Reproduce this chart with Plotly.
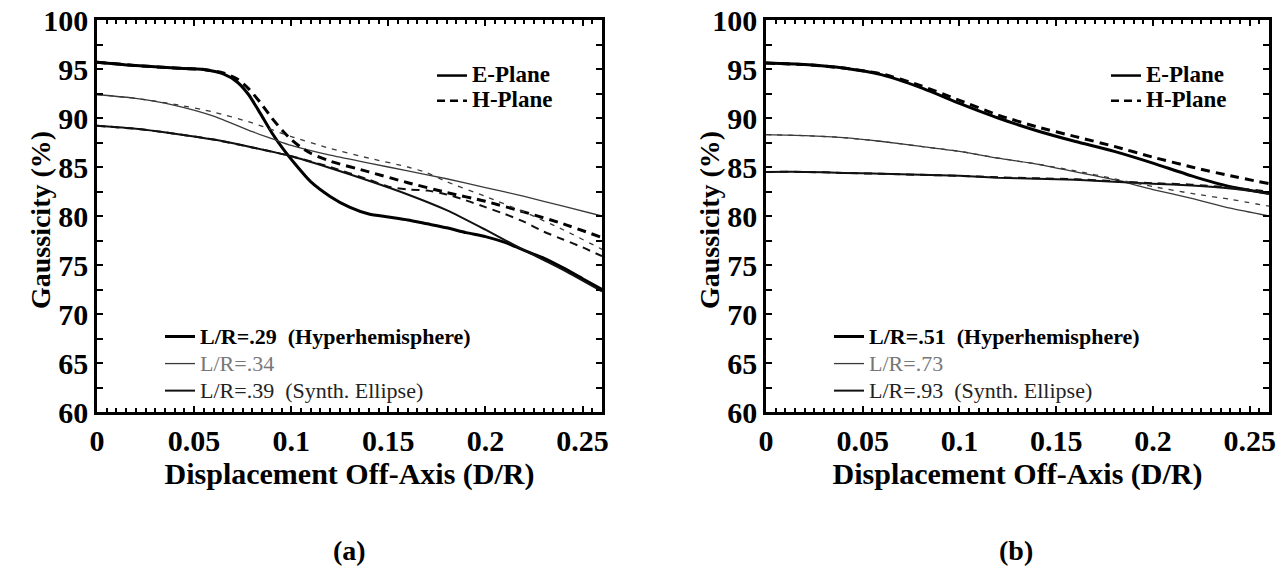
import plotly.graph_objects as go

# ---------------- data: panel (a) ----------------
a_x_e29 = [0, 0.02, 0.04, 0.055, 0.065, 0.072, 0.078, 0.084, 0.09, 0.096, 0.102, 0.11, 0.12, 0.13,
           0.14, 0.15, 0.16, 0.17, 0.18, 0.19, 0.2, 0.21, 0.22, 0.23, 0.24, 0.25, 0.26]
a_y_e29 = [95.7, 95.35, 95.1, 94.95, 94.5, 93.7, 92.4, 90.5, 88.5, 86.8, 85.3, 83.5, 82.0, 80.9,
           80.2, 79.9, 79.6, 79.2, 78.8, 78.3, 77.9, 77.3, 76.5, 75.7, 74.7, 73.6, 72.5]
a_x_h29 = [0, 0.02, 0.04, 0.055, 0.065, 0.072, 0.078, 0.084, 0.09, 0.096, 0.1, 0.105, 0.11, 0.12,
           0.14, 0.16, 0.18, 0.2, 0.22, 0.24, 0.26]
a_y_h29 = [95.7, 95.35, 95.1, 94.95, 94.6, 94.0, 93.0, 91.6, 90.0, 88.6, 87.8, 87.0, 86.4, 85.6,
           84.5, 83.4, 82.4, 81.5, 80.4, 79.2, 77.8]
a_x_e34 = [0, 0.02, 0.04, 0.06, 0.08, 0.09, 0.1, 0.12, 0.14, 0.16, 0.18, 0.2, 0.22, 0.24, 0.26]
a_y_e34 = [92.4, 92.0, 91.3, 90.2, 88.6, 87.9, 87.2, 86.2, 85.4, 84.6, 83.8, 82.9, 82.0, 81.0, 80.0]
a_x_h34 = [0, 0.02, 0.04, 0.06, 0.08, 0.1, 0.12, 0.14, 0.16, 0.17, 0.18, 0.2, 0.22, 0.24, 0.26]
a_y_h34 = [92.4, 92.0, 91.4, 90.6, 89.5, 88.1, 86.9, 85.9, 85.0, 84.4, 83.5, 82.0, 80.4, 78.6, 76.6]
a_x_e39 = [0, 0.02, 0.04, 0.06, 0.08, 0.1, 0.12, 0.14, 0.16, 0.18, 0.2, 0.22, 0.24, 0.26]
a_y_e39 = [89.2, 88.9, 88.4, 87.8, 87.0, 86.1, 84.9, 83.6, 82.2, 80.6, 78.6, 76.5, 74.5, 72.3]
a_x_h39 = [0, 0.02, 0.04, 0.06, 0.08, 0.1, 0.12, 0.14, 0.15, 0.16, 0.17, 0.18, 0.19, 0.2, 0.21,
           0.22, 0.23, 0.24, 0.25, 0.26]
a_y_h39 = [89.2, 88.9, 88.4, 87.8, 87.0, 86.1, 85.0, 83.7, 83.0, 82.7, 82.6, 82.2, 81.6, 80.9, 80.2,
           79.4, 78.4, 77.6, 76.8, 75.9]

# ---------------- data: panel (b) ----------------
b_x = [0, 0.02, 0.04, 0.06, 0.08, 0.1, 0.12, 0.14, 0.16, 0.18, 0.2, 0.22, 0.24, 0.26]
b_y_e51 = [95.6, 95.45, 95.1, 94.4, 93.1, 91.5, 90.0, 88.7, 87.6, 86.6, 85.4, 84.1, 83.0, 82.3]
b_y_h51 = [95.6, 95.45, 95.1, 94.5, 93.3, 91.8, 90.3, 89.1, 88.1, 87.1, 86.0, 85.0, 84.1, 83.3]
b_y_e73 = [88.3, 88.2, 88.0, 87.6, 87.1, 86.6, 85.9, 85.3, 84.5, 83.7, 82.7, 81.8, 80.8, 80.0]
b_y_h73 = [88.3, 88.2, 88.0, 87.6, 87.1, 86.6, 85.9, 85.3, 84.6, 83.8, 83.0, 82.3, 81.7, 81.0]
b_y_e93 = [84.5, 84.5, 84.4, 84.3, 84.2, 84.1, 83.9, 83.8, 83.7, 83.5, 83.3, 83.1, 82.8, 82.3]
b_y_h93 = [84.5, 84.5, 84.4, 84.3, 84.2, 84.1, 83.95, 83.85, 83.75, 83.55, 83.35, 83.2, 82.9, 82.5]

x_tickvals = [0, 0.05, 0.1, 0.15, 0.2, 0.25]
x_ticktext = ["0", "0.05", "0.1", "0.15", "0.2", "0.25"]
y_tickvals = [60, 65, 70, 75, 80, 85, 90, 95, 100]
y_ticktext = ["60", "65", "70", "75", "80", "85", "90", "95", "100"]

LR = "font-size:22px"
a_names = [f"<span style='{LR}'><b>L/R=.29\u00a0\u00a0(Hyperhemisphere)</b></span>",
           f"<span style='{LR};color:#777777'>L/R=.34</span>",
           f"<span style='{LR};color:#222222'>L/R=.39\u00a0\u00a0(Synth. Ellipse)</span>"]
b_names = [f"<span style='{LR}'><b>L/R=.51\u00a0\u00a0(Hyperhemisphere)</b></span>",
           f"<span style='{LR};color:#777777'>L/R=.73</span>",
           f"<span style='{LR};color:#222222'>L/R=.93\u00a0\u00a0(Synth. Ellipse)</span>"]
EH = "font-size:23px"
plane_names = [f"<span style='{EH}'><b>E-Plane</b></span>", f"<span style='{EH}'><b>H-Plane</b></span>"]
panel_labels = ["<b>(a)</b>", "<b>(b)</b>"]
y_title = "<b>Gaussicity (%)</b>"
x_title = "Displacement Off-Axis (D/R)"

FONT = "Liberation Serif, Times New Roman, serif"
W_THICK, W_THIN, W_MED = 3.0, 1.3, 2.0
C_THICK, C_THIN, C_MED = "#000000", "#3a3a3a", "#111111"

fig = go.Figure()

def add(x, y, xa, ya, width, color, dash, name=None, legend=None):
    fig.add_trace(go.Scatter(
        x=x, y=y, xaxis=xa, yaxis=ya, mode="lines",
        line=dict(color=color, width=width, dash=dash, shape="spline", smoothing=0.6),
        name=name or "", showlegend=name is not None,
        legend=legend or "legend", hoverinfo="skip"))

# panel a
add(a_x_e29, a_y_e29, "x", "y", W_THICK, C_THICK, "solid", a_names[0], "legend2")
add(a_x_e34, a_y_e34, "x", "y", W_THIN, C_THIN, "solid", a_names[1], "legend2")
add(a_x_e39, a_y_e39, "x", "y", W_MED, C_MED, "solid", a_names[2], "legend2")
add(a_x_h29, a_y_h29, "x", "y", W_THICK, C_THICK, "9px,6px")
add(a_x_h34, a_y_h34, "x", "y", W_THIN, C_THIN, "5px,6px")
add(a_x_h39, a_y_h39, "x", "y", W_MED, C_MED, "8px,6px")
# panel b
add(b_x, b_y_e51, "x2", "y2", W_THICK, C_THICK, "solid", b_names[0], "legend4")
add(b_x, b_y_e73, "x2", "y2", W_THIN, C_THIN, "solid", b_names[1], "legend4")
add(b_x, b_y_e93, "x2", "y2", W_MED, C_MED, "solid", b_names[2], "legend4")
add(b_x, b_y_h51, "x2", "y2", W_THICK, C_THICK, "9px,6px")
add(b_x, b_y_h73, "x2", "y2", W_THIN, C_THIN, "5px,6px")
add(b_x, b_y_h93, "x2", "y2", W_MED, C_MED, "8px,6px")

# legend-only entries for E-Plane / H-Plane
for xa_, ya_, lg in (("x", "y", "legend"), ("x2", "y2", "legend3")):
    fig.add_trace(go.Scatter(x=[None], y=[None], xaxis=xa_, yaxis=ya_, mode="lines",
                             line=dict(color="black", width=2.5), name=plane_names[0], legend=lg))
    fig.add_trace(go.Scatter(x=[None], y=[None], xaxis=xa_, yaxis=ya_, mode="lines",
                             line=dict(color="black", width=2.5, dash="8px,5px"),
                             name=plane_names[1], legend=lg))

W, H = 1285, 576
dom_a = [97 / W, 602 / W]
dom_b = [766 / W, 1269 / W]
dom_y = [1 - 412 / H, 1 - 20 / H]

axis_common = dict(
    showline=True, linecolor="black", linewidth=2.5, mirror="allticks",
    ticks="inside", ticklen=6, tickwidth=2, tickcolor="black",
    showgrid=False, zeroline=False, automargin=False,
    tickfont=dict(family=FONT, size=30, color="black", weight="bold"),
)
xa = dict(axis_common, range=[0, 0.26], tickmode="array", tickvals=x_tickvals, ticktext=x_ticktext,
          minor=dict(dtick=0.005, tick0=0, ticks="inside", ticklen=4, tickwidth=1.5, tickcolor="black"),
          title=dict(text=x_title, standoff=1,
                     font=dict(family=FONT, size=30, color="black", weight="bold")))
ya = dict(axis_common, range=[60, 100], tickmode="array", tickvals=y_tickvals, ticktext=y_ticktext,
          ticklabelstandoff=0,
          minor=dict(dtick=2.5, tick0=60, ticks="inside", ticklen=6, tickwidth=2, tickcolor="black"))

def leg(x, y, size):
    return dict(x=x / W, y=1 - y / H, xanchor="left", yanchor="top", xref="paper", yref="paper",
                bgcolor="rgba(0,0,0,0)", borderwidth=0, tracegroupgap=0,
                font=dict(family=FONT, size=size, color="black"))

def ann(text, x, y, size, angle=0):
    return dict(text=text, x=x / W, y=1 - y / H, xref="paper", yref="paper", xanchor="center",
                yanchor="middle", textangle=angle, showarrow=False,
                font=dict(family=FONT, size=size, color="black"))

fig.update_layout(
    width=W, height=H,
    margin=dict(l=0, r=0, t=0, b=0, autoexpand=False),
    paper_bgcolor="white", plot_bgcolor="white",
    xaxis=dict(xa, domain=dom_a, anchor="y"),
    yaxis=dict(ya, domain=dom_y, anchor="x"),
    xaxis2=dict(xa, domain=dom_b, anchor="y2"),
    yaxis2=dict(ya, domain=dom_y, anchor="x2"),
    legend=leg(432, 58, 17),
    legend2=leg(160, 318, 18.5),
    legend3=leg(1106, 58, 17),
    legend4=leg(829, 318, 18.5),
    annotations=[
        ann(y_title, 40, 220, 28, -90),
        ann(y_title, 709, 220, 28, -90),
        ann(panel_labels[0], 349, 550, 28),
        ann(panel_labels[1], 1016, 550, 28),
    ],
)

fig.write_html("out.html", config={"displayModeBar": False},
               post_script="document.body.style.margin='0';")
